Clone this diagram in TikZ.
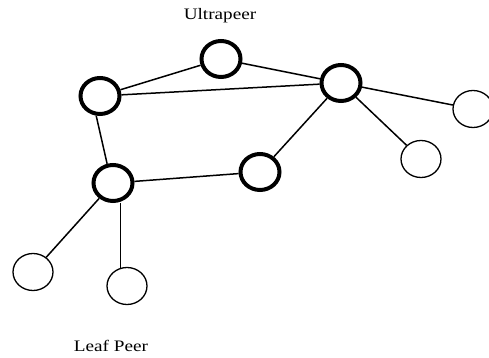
\documentclass[tikz,border=0pt]{standalone}
\usepackage{fontspec}
\setmainfont{Liberation Serif}
\usetikzlibrary{shapes.geometric}
\begin{document}
\begin{tikzpicture}[x=1pt,y=1pt,
  ultra/.style={ellipse,draw=black,line width=4pt,inner sep=0pt,minimum width=39pt,minimum height=36pt},
  leaf/.style={ellipse,draw=black,line width=1.3pt,inner sep=0pt,minimum width=40pt,minimum height=37pt},
  link/.style={draw=black,line width=1.5pt},
  lbl/.style={text=black,inner sep=0pt,font=\fontsize{16}{18}\selectfont}]
\useasboundingbox (0,0) rectangle (489,358);
\node[ultra] (A) at (221,299) {};
\node[ultra] (B) at (100,262) {};
\node[ultra] (C) at (341,275) {};
\node[ultra] (D) at (113,175) {};
\node[ultra] (E) at (260,186) {};
\node[leaf] (F) at (473,249) {};
\node[leaf] (G) at (421,199) {};
\node[leaf] (H) at (33,86) {};
\node[leaf] (I) at (127,72) {};
\draw[link] (A) -- (B);
\draw[link] (A) -- (C);
\draw[link] (B) -- (C);
\draw[link] (B.259) -- (D.107);
\draw[link] (D) -- (E);
\draw[link] (E) -- (C);
\draw[link] (C) -- (F);
\draw[link] (C) -- (G);
\draw[link] (D) -- (H);
\draw[link] (D.south -| I.110) -- (I.110);
\node[lbl,anchor=base] (ut) at (220,338) {\scalebox{1.2}[1]{Ultrapeer}};
\node[lbl,anchor=base] (lp) at (111,6) {\scalebox{1.2}[1]{Leaf Peer}};
\end{tikzpicture}
\end{document}
